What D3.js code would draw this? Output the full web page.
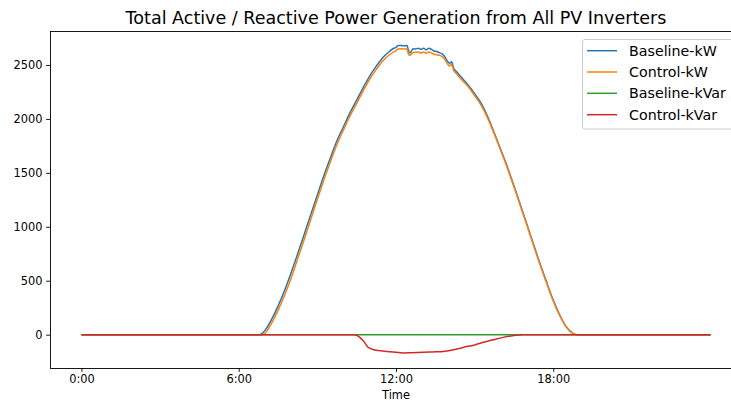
<!DOCTYPE html>
<html><head><meta charset="utf-8">
<script src="https://cdnjs.cloudflare.com/ajax/libs/d3/7.8.5/d3.min.js"></script>
<style>body{margin:0;background:#fff;} svg{display:block;font-family:"DejaVu Sans",sans-serif;}</style>
</head><body><svg id="c" width="731" height="402"></svg>
<script>
// Data (time in hours)
const seriesNames = ["Baseline-kW","Control-kW","Baseline-kVar","Control-kVar"];
const seriesColors = ["#1f77b4","#ff7f0e","#2ca02c","#d62728"];
const xTickValues = [0,6,12,18];
const xTickLabels = ["0:00","6:00","12:00","18:00"];
const yTickValues = [0,500,1000,1500,2000,2500];

const baselineKwTime = [0,3,6,6.5,6.78,6.9,7.0,7.25,7.5,7.75,8.0,8.25,8.5,8.75,9.0,9.25,9.5,9.75,10.0,10.25,10.5,10.75,11.0,11.25,11.5,11.75,11.9,12.0,12.05,12.1,12.2,12.3,12.42,12.47,12.52,12.58,12.65,12.75,12.85,12.95,13.05,13.15,13.25,13.35,13.45,13.55,13.65,13.75,13.85,13.95,14.05,14.12,14.2,14.3,14.5,14.75,15.0,15.25,15.5,15.75,16.0,16.25,16.5,16.75,17.0,17.25,17.5,17.75,18.0,18.25,18.5,18.75,18.9,19.2,21,24];
const baselineKw = [0,0,0,0,0,12,40,140,265,410,575,750,930,1115,1295,1475,1640,1800,1930,2060,2175,2290,2400,2490,2570,2625,2653,2662,2677,2680,2680,2678,2680,2640,2612,2625,2650,2648,2655,2645,2655,2640,2655,2645,2630,2625,2615,2605,2580,2540,2515,2530,2470,2440,2385,2315,2235,2145,2020,1870,1715,1555,1380,1200,1020,835,655,485,320,180,72,12,0,0,0,0];

const controlKwTime = [0,3,6,6.5,6.86,6.98,7.0,7.25,7.5,7.75,8.0,8.25,8.5,8.75,9.0,9.25,9.5,9.75,10.0,10.25,10.5,10.75,11.0,11.25,11.5,11.75,11.9,12.0,12.05,12.1,12.2,12.3,12.42,12.47,12.52,12.58,12.65,12.75,12.85,12.95,13.05,13.15,13.25,13.35,13.45,13.55,13.65,13.75,13.85,13.95,14.05,14.12,14.2,14.3,14.5,14.75,15.0,15.25,15.5,15.75,16.0,16.25,16.5,16.75,17.0,17.25,17.5,17.75,18.0,18.25,18.5,18.75,18.95,19.2,21,24];
const controlKw = [0,0,0,0,0,8,12,105,225,365,525,705,885,1070,1255,1435,1605,1765,1900,2030,2145,2260,2370,2460,2540,2595,2620,2632,2645,2648,2650,2648,2648,2605,2588,2600,2615,2618,2620,2612,2620,2608,2620,2612,2600,2595,2590,2580,2555,2515,2490,2505,2450,2420,2365,2300,2215,2125,2005,1860,1705,1545,1370,1190,1010,825,645,475,312,175,68,12,0,0,0,0];

const baselineKvarTime = [0,6,12,18,24];
const baselineKvar = [0,0,0,0,0];

const controlKvarTime = [0,6,10,10.4,10.5,10.62,10.75,10.94,11.2,11.5,11.77,12.0,12.28,12.6,13.04,13.4,13.8,14.2,14.56,15.0,15.33,15.7,16.09,16.5,16.85,17.2,20,24];
const controlKvar = [0,0,0,0,-6,-25,-56,-118,-142,-152,-158,-164,-170,-168,-164,-160,-155,-140,-118,-95,-71,-48,-25,-8,0,0,0,0];

const W = 731, H = 402;
const L = 50, R = 742, T = 31, B = 368;
const svg = d3.select("#c");
const x = d3.scaleLinear().domain([-1.2, 25.2]).range([L, R]);
const y = d3.scaleLinear().domain([-309, 2815]).range([B, T]);

function fitFont(sel, base, target){
  sel.attr("font-size", base);
  const len = sel.node().getComputedTextLength();
  const fs = len > 0 ? base * target / len : base;
  sel.attr("font-size", fs);
  return fs;
}

// title
const title = svg.append("text").attr("x", (L+R)/2).attr("y", 24).attr("text-anchor","middle")
  .attr("fill","#000")
  .text("Total Active / Reactive Power Generation from All PV Inverters");
fitFont(title, 17, 541);

const clip = svg.append("defs").append("clipPath").attr("id","pc");
clip.append("rect").attr("x",L).attr("y",T).attr("width",R-L).attr("height",B-T);

const series = [
  {t: baselineKwTime, v: baselineKw},
  {t: controlKwTime, v: controlKw},
  {t: baselineKvarTime, v: baselineKvar},
  {t: controlKvarTime, v: controlKvar}
];
const line = d3.line().x(d=>x(d[0])).y(d=>y(d[1])).curve(d3.curveMonotoneX);
const g = svg.append("g").attr("clip-path","url(#pc)");
series.forEach((s,i)=>{
  const pts = s.t.map((t,j)=>[t, s.v[j]]);
  g.append("path").attr("d", line(pts)).attr("fill","none")
    .attr("stroke", seriesColors[i]).attr("stroke-width",1.5).attr("stroke-linejoin","round");
});

// axes
const xAxis = d3.axisBottom(x).tickValues(xTickValues).tickFormat((d,i)=>xTickLabels[i]).tickSize(3.9).tickPadding(3.5);
const yAxis = d3.axisLeft(y).tickValues(yTickValues).tickFormat(d3.format("d")).tickSize(3.9).tickPadding(3.5);
const gx = svg.append("g").attr("transform",`translate(0,${B})`).call(xAxis);
const gy = svg.append("g").attr("transform",`translate(${L},0)`).call(yAxis);
[gx,gy].forEach(a=>{
  a.select(".domain").remove();
  a.selectAll("text").attr("font-size",11.4).attr("fill","#000").attr("font-family","DejaVu Sans, sans-serif");
  a.selectAll("line").attr("stroke","#000").attr("stroke-width",0.9);
});
// spines
svg.append("rect").attr("x",L+0.5).attr("y",T+0.5).attr("width",R-L-1).attr("height",B-T)
  .attr("fill","none").attr("stroke","#000").attr("stroke-width",0.9);

svg.append("text").attr("x",(L+R)/2).attr("y",398.5).attr("text-anchor","middle")
  .attr("font-size",11.4).attr("fill","#000").text("Time");

// legend
const lg = svg.append("g");
lg.append("rect").attr("x",582.5).attr("y",39.5).attr("width",160).attr("height",89.5).attr("rx",2.5)
  .attr("fill","#fff").attr("fill-opacity",0.8).attr("stroke","#ccc").attr("stroke-width",1);
const rowY = [50.7, 72, 93.3, 114.7];
const probe = lg.append("text").attr("x",-1000).attr("y",-1000).text("Baseline-kVar");
const legFs = fitFont(probe, 12.5, 97);
probe.remove();
seriesNames.forEach((n,i)=>{
  lg.append("line").attr("x1",587).attr("x2",617).attr("y1",rowY[i]).attr("y2",rowY[i])
    .attr("stroke",seriesColors[i]).attr("stroke-width",1.5);
  lg.append("text").attr("x",629).attr("y",rowY[i]).attr("dy","0.36em")
    .attr("font-size",legFs).attr("fill","#000").text(n);
});
</script></body></html>
